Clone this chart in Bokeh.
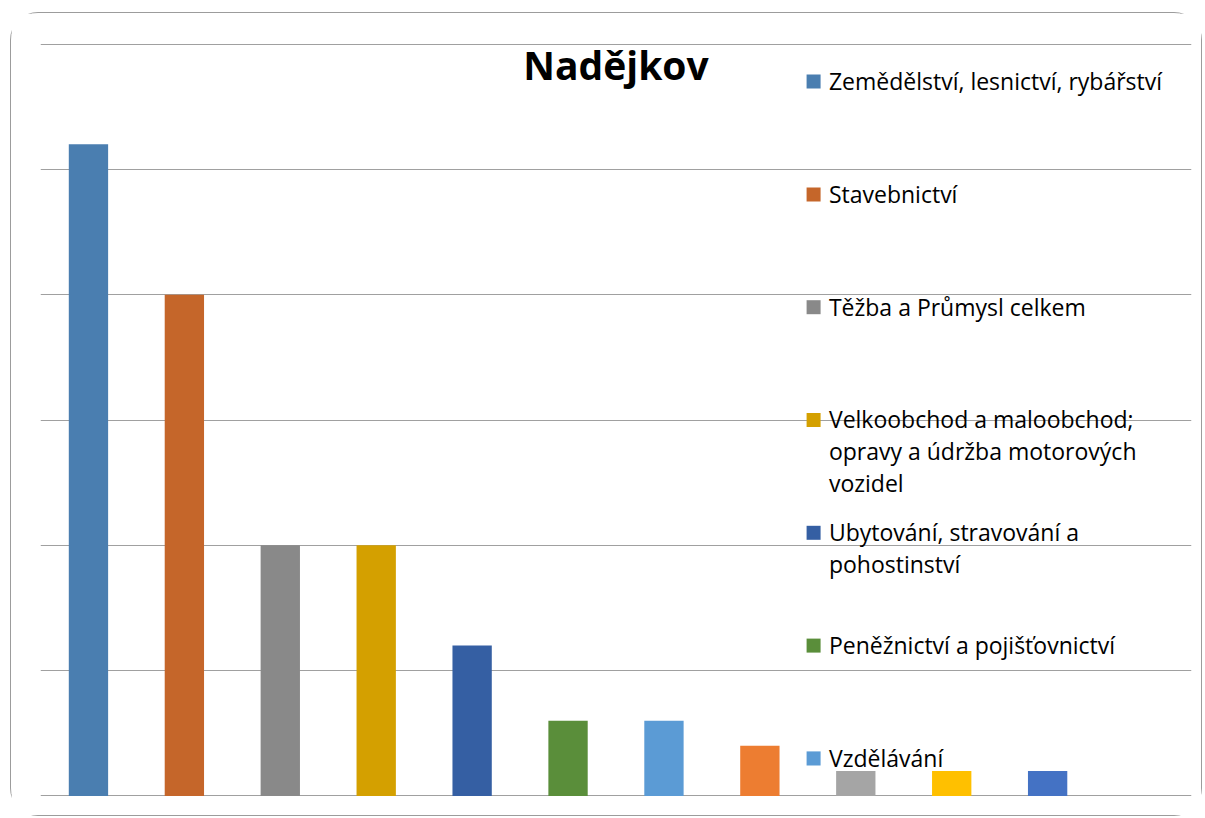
from bokeh.plotting import figure
from bokeh.models import ColumnDataSource, FixedTicker, Range1d
from bokeh.core.properties import value
from bokeh.embed import file_html
from bokeh.resources import INLINE

# ---- data ----
title_text = "Nadějkov"
positions = [1, 2, 3, 4, 5, 6, 7, 8, 9, 10, 11, 12]
values = [26, 20, 10, 10, 6, 3, 3, 2, 1, 1, 1, 0]
bar_colors = ["#4a7eb0", "#c5662a", "#898989", "#d4a000", "#355fa3", "#5a8e3a",
              "#5b9bd5", "#ed7d31", "#a5a5a5", "#ffc000", "#4472c4", "#70ad47"]
legend_labels = [
    "Zemědělství, lesnictví, rybářství",
    "Stavebnictví",
    "Těžba a Průmysl celkem",
    "Velkoobchod a maloobchod;\nopravy a údržba motorových\nvozidel",
    "Ubytování, stravování a\npohostinství",
    "Peněžnictví a pojišťovnictví",
    "Vzdělávání",
]
y_ticks = [0, 5, 10, 15, 20, 25, 30]

p = figure(width=1192, height=804, output_backend="svg", toolbar_location=None,
           x_range=Range1d(0.5, 12.5), y_range=Range1d(-0.06, 30.06),
           min_border_left=29, min_border_right=12, min_border_top=29, min_border_bottom=20)
p.styles = {"border": "1px solid #9c9c9c", "border-radius": "28px",
            "margin-left": "10px", "margin-top": "12px"}
p.xaxis.visible = False
p.yaxis.visible = False
p.xgrid.visible = False
p.ygrid.ticker = FixedTicker(ticks=y_ticks)
p.ygrid.grid_line_color = "#a0a0a0"
p.ygrid.grid_line_width = 1.2
p.outline_line_color = None
p.background_fill_color = "white"
p.border_fill_color = "white"

src = ColumnDataSource(dict(x=positions, top=values, color=bar_colors))
p.vbar(x="x", top="top", width=0.41, bottom=0, color="color", source=src, line_color=None)

# title (inside plot area)
p.text(x=[6.5], y=[29.2], text=[title_text], text_font=value("Open Sans"), text_font_size="39px",
       text_font_style="bold", text_align="center", text_baseline="middle", text_color="#000000")

# legend (clipped in original, only first 7 items visible)
n = len(legend_labels)
ly = [28.5 - 4.5 * i for i in range(n)]
lx_sq = [8.56] * n
lx_tx = [8.72] * n
p.scatter(x=lx_sq, y=ly, marker="square", size=14, color=bar_colors[:n], line_color=None)
p.text(x=lx_tx, y=[v + 0.66 for v in ly], text=legend_labels, text_font=value("Open Sans"),
       text_font_size="23px", text_align="left", text_baseline="top", text_color="#000000",
       text_line_height=1.0)

open("out.html", "w").write(file_html(p, INLINE))
